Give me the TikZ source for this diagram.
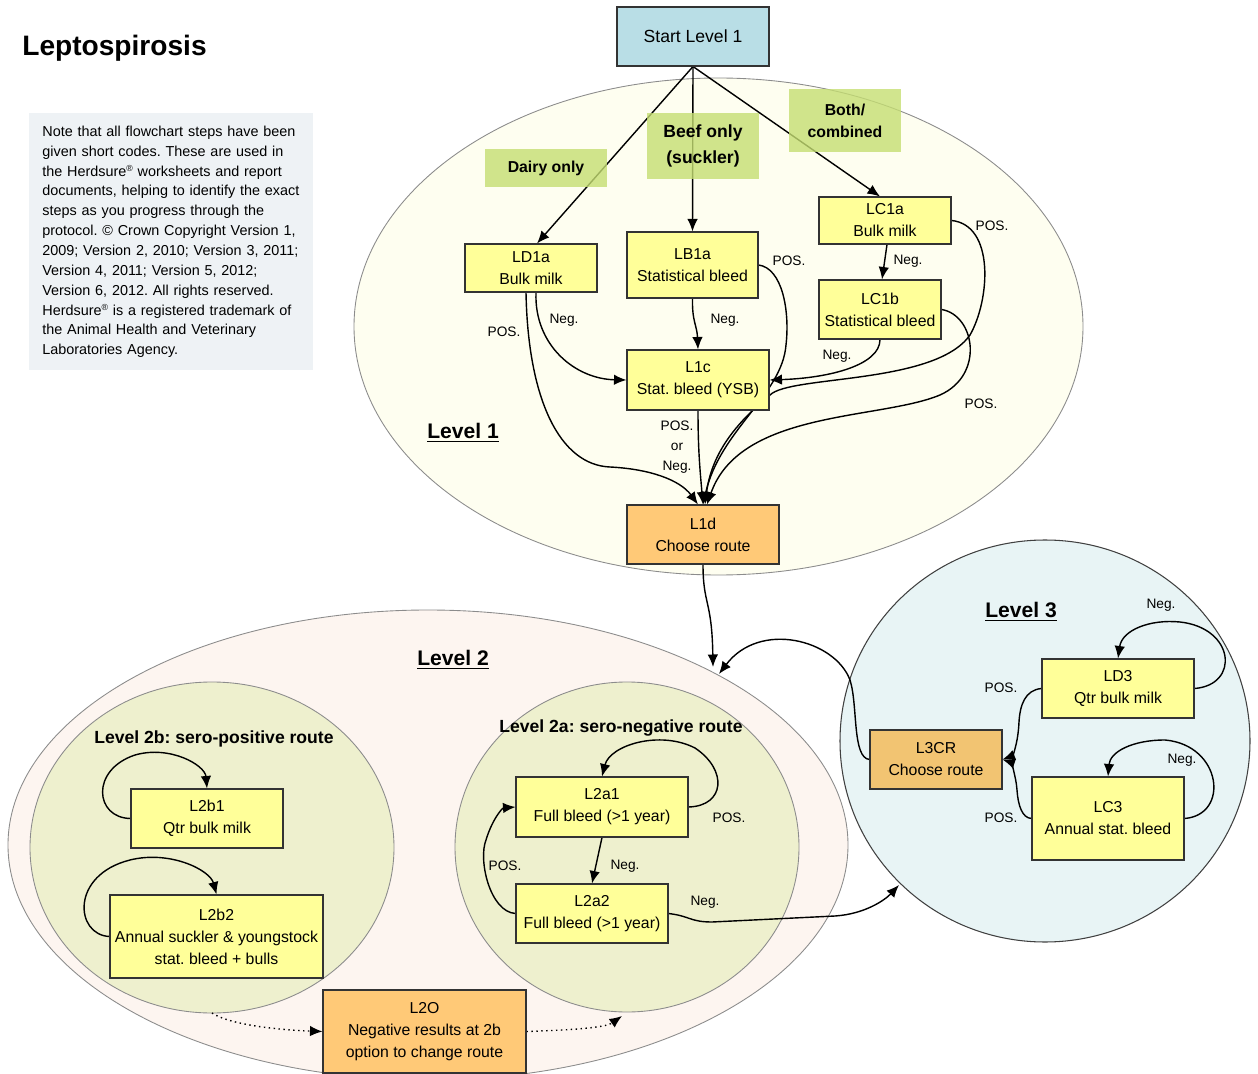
\documentclass[tikz,border=0pt]{standalone}
\usepackage{fontspec}
\setmainfont{Liberation Sans}
\usetikzlibrary{arrows.meta}
\frenchspacing

\definecolor{boxyellow}{HTML}{FFFF99}
\definecolor{routeorange}{HTML}{FFC977}
\definecolor{crorange}{HTML}{F2C472}
\definecolor{startcyan}{HTML}{B9DEE6}
\definecolor{typegreen}{HTML}{C5DE72}
\definecolor{levelonefill}{HTML}{FEFEF0}
\definecolor{leveltwofill}{HTML}{FDF5F0}
\definecolor{routefill}{HTML}{EEF0CE}
\definecolor{levelthreefill}{HTML}{E8F4F5}
\definecolor{notegray}{HTML}{EEF2F5}

\newcommand{\regmark}{\raisebox{0.3em}{\fontsize{5}{5}\selectfont ®}}

\pgfdeclarelayer{back}
\pgfdeclarelayer{lines}
\pgfsetlayers{back,lines,main}

\begin{document}
\begin{tikzpicture}[x=0.02cm,y=0.02cm]
	 \tikzstyle{box}=[draw=black!80,fill=boxyellow,line width=0.6pt,inner sep=0pt,align=center,font=\fontsize{9}{12.5}\selectfont]
	 \tikzstyle{route box}=[box,fill=routeorange]
	 \tikzstyle{type label}=[fill=typegreen,fill opacity=0.8,text opacity=1,inner sep=0pt,align=center,font=\bfseries\fontsize{9}{12.5}\selectfont]
	 \tikzstyle{result}=[inner sep=0pt,align=center,font=\fontsize{7.8}{11.3}\selectfont]
	 \tikzstyle{level}=[draw=black!45,line width=0.5pt]
	 \tikzstyle{level title}=[inner sep=0pt,font=\bfseries\fontsize{12}{14}\selectfont]
	 \tikzstyle{route title}=[inner sep=0pt,font=\bfseries\fontsize{10}{12}\selectfont]

	 \tikzstyle{edge}=[-{Latex[length=2.5mm,width=2.1mm]},line width=0.8pt,black]
	 \tikzstyle{option edge}=[edge,dotted]

	\useasboundingbox (0,0) rectangle (1258,-1074);

	% levels
	\begin{pgfonlayer}{back}
	\draw[level,fill=leveltwofill] (428,-845) ellipse [x radius=420,y radius=235];
	\draw[level,fill=routefill] (212,-847.5) ellipse [x radius=182,y radius=165.5];
	\draw[level,fill=routefill] (627,-847) ellipse [x radius=172,y radius=165];
	\draw[level,fill=levelonefill] (718.5,-326.5) ellipse [x radius=364.5,y radius=248.5];
	\draw[draw=black!75,line width=0.6pt,fill=levelthreefill] (1045,-741) ellipse [x radius=205,y radius=201];
	\end{pgfonlayer}

	\node[anchor=west,inner sep=0pt,font=\bfseries\fontsize{16}{19}\selectfont] (title) at (22,-48) {Leptospirosis};
	\node[anchor=north west,fill=notegray,inner xsep=0.26cm,inner ysep=0.2cm,text width=5.16cm,minimum height=5.14cm,align=left,font=\fontsize{8.2}{11.3}\selectfont] (note) at (29,-113) {Note that all flowchart steps have been\\
given short codes. These are used in\\
the Herdsure\regmark{} worksheets and report\\
documents, helping to identify the exact\\
steps as you progress through the\\
protocol. © Crown Copyright Version 1,\\
2009; Version 2, 2010; Version 3, 2011;\\
Version 4, 2011; Version 5, 2012;\\
Version 6, 2012. All rights reserved.\\
Herdsure\regmark{} is a registered trademark of\\
the Animal Health and Veterinary\\
Laboratories Agency.};

	% level 1
	\node[box,fill=startcyan,minimum width=3.04cm,minimum height=1.18cm,font=\fontsize{10}{12.5}\selectfont] (start) at (693,-36.5) {Start Level 1};
	\node[box,minimum width=2.64cm,minimum height=0.96cm] (LD1a) at (531,-268) {LD1a\\Bulk milk};
	\node[box,minimum width=2.62cm,minimum height=1.32cm] (LB1a) at (692.5,-265) {LB1a\\Statistical bleed};
	\node[box,minimum width=2.64cm,minimum height=0.94cm] (LC1a) at (885,-220.5) {LC1a\\Bulk milk};
	\node[box,minimum width=2.44cm,minimum height=1.18cm] (LC1b) at (880,-309.5) {LC1b\\Statistical bleed};
	\node[box,minimum width=2.84cm,minimum height=1.2cm] (L1c) at (698,-380) {L1c\\Stat. bleed (YSB)};
	\node[route box,minimum width=3.04cm,minimum height=1.18cm] (L1d) at (703,-534.5) {L1d\\Choose route};
	\node[level title] (lev1) at (463,-433) {\underline{Level 1}};

	% level 2
	\node[level title] (lev2) at (453,-660) {\underline{Level 2}};
	\node[route title] (lev2b) at (214,-739) {Level 2b: sero-positive route};
	\node[route title] (lev2a) at (621,-728) {Level 2a: sero-negative route};
	\node[box,minimum width=3.04cm,minimum height=1.18cm] (L2b1) at (207,-818.5) {L2b1\\Qtr bulk milk};
	\node[box,minimum width=4.26cm,minimum height=1.66cm] (L2b2) at (216.5,-936.5) {L2b2\\Annual suckler \& youngstock\\stat. bleed + bulls};
	\node[route box,minimum width=4.06cm,minimum height=1.66cm] (L2O) at (424.5,-1031.5) {L2O\\Negative results at 2b\\option to change route};
	\node[box,minimum width=3.44cm,minimum height=1.2cm] (L2a1) at (602,-807) {L2a1\\Full bleed (>1 year)};
	\node[box,minimum width=3.04cm,minimum height=1.18cm] (L2a2) at (592,-913.5) {L2a2\\Full bleed (>1 year)};

	% level 3
	\node[level title] (lev3) at (1021,-612) {\underline{Level 3}};
	\node[box,minimum width=3.04cm,minimum height=1.18cm] (LD3) at (1118,-688.5) {LD3\\Qtr bulk milk};
	\node[box,fill=crorange,minimum width=2.64cm,minimum height=1.18cm] (L3CR) at (936,-759.5) {L3CR\\Choose route};
	\node[box,minimum width=3.04cm,minimum height=1.66cm] (LC3) at (1108,-818.5) {LC3\\Annual stat. bleed};

	\coordinate (l2in) at (713,-667);
	\coordinate (l2back) at (719,-674);
	\coordinate (l3in) at (899,-885);
	\coordinate (l2bbottom) at (212,-1013);
	\coordinate (l2abottom) at (622,-1016);

	\begin{pgfonlayer}{lines}
	\draw[edge] (start.south) -- ([xshift=0.12cm]LD1a.north);
	\draw[edge] (start.south) -- (LB1a.north);
	\draw[edge] (start.south) -- ([xshift=-0.1cm]LC1a.north);

	\draw[edge] ([xshift=-0.1cm]LD1a.south) .. controls (528,-400) and (560,-465) .. (610,-467) .. controls (650,-469) and (680,-480) .. ([xshift=-0.1cm]L1d.north);
	\draw[edge] ([xshift=0.1cm]LD1a.south) .. controls (534,-345) and (575,-379) .. (L1c.west);
	\draw[edge] (LB1a.south) .. controls (692,-322) and (697,-325) .. (L1c.north);
	\draw[edge] (LB1a.east) .. controls (782,-268) and (790,-310) .. (786,-345) .. controls (782,-395) and (720,-430) .. (L1d.north);
	\draw[edge] (LC1a.north east) ++(0,-24) .. controls (995,-225) and (990,-300) .. (970,-335) .. controls (935,-385) and (790,-375) .. (770,-395) .. controls (740,-420) and (712,-450) .. ([xshift=0.04cm]L1d.north);
	\draw[edge] ([xshift=0.04cm]LC1a.south) -- ([xshift=0.04cm]LC1b.north);
	\draw[edge] (LC1b.south) .. controls (880,-365) and (830,-378) .. (L1c.east);
	\draw[edge] (LC1b.east) .. controls (975,-315) and (985,-375) .. (940,-395) .. controls (880,-420) and (740,-410) .. ([xshift=0.08cm]L1d.north);
	\draw[edge] (L1c.south) .. controls (698,-450) and (700,-470) .. (L1d.north);

	\draw[edge] (L1d.south) .. controls (703,-605) and (712,-600) .. (l2in);
	\draw[edge] (L3CR.west) .. controls (852,-758) and (858,-705) .. (850,-680) .. controls (835,-640) and (760,-620) .. (l2back);
	\draw[edge] (L2a2.east) .. controls (690,-916) and (690,-922) .. (712,-922) -- (835,-916) .. controls (865,-914) and (885,-900) .. (l3in);

	\draw[edge] (LD3.east) .. controls (1240,-685) and (1235,-628) .. (1180,-622) .. controls (1150,-619) and (1122,-630) .. (LD3.north);
	\draw[edge] (LC3.east) .. controls (1230,-815) and (1222,-745) .. (1165,-740) .. controls (1132,-740) and (1110,-752) .. (LC3.north);
	\draw[edge] (LD3.west) .. controls (1025,-690) and (1020,-705) .. (1019,-722) .. controls (1018,-745) and (1012,-756) .. (L3CR.east);
	\draw[edge] (LC3.west) .. controls (1022,-818) and (1018,-805) .. (1017,-790) .. controls (1016,-775) and (1010,-762) .. (L3CR.east);

	\draw[edge] (L2a1.east) .. controls (725,-806) and (728,-770) .. (695,-748) .. controls (660,-730) and (610,-745) .. (L2a1.north);
	\draw[edge] (L2a1.south) -- (L2a2.north);
	\draw[edge] (L2a2.west) .. controls (490,-912) and (478,-860) .. (486,-840) .. controls (492,-820) and (502,-808) .. (L2a1.west);

	\draw[edge] (L2b1.west) .. controls (95,-818) and (90,-770) .. (135,-755) .. controls (170,-745) and (205,-765) .. (L2b1.north);
	\draw[edge] (L2b2.west) .. controls (75,-935) and (70,-875) .. (130,-860) .. controls (170,-850) and (210,-870) .. (L2b2.north);

	\draw[option edge] (l2bbottom) .. controls (230,-1025) and (280,-1030) .. (L2O.west);
	\draw[option edge] (L2O.east) .. controls (570,-1030) and (605,-1028) .. (l2abottom);
	\end{pgfonlayer}

	% route types
	\node[type label,minimum width=2.44cm,minimum height=0.76cm] (dairy) at (546,-168) {Dairy only};
	\node[type label,minimum width=2.24cm,minimum height=1.32cm,font=\bfseries\fontsize{10}{14.5}\selectfont] (beef) at (703,-146) {Beef only\\(suckler)};
	\node[type label,minimum width=2.24cm,minimum height=1.26cm] (both) at (845,-120.5) {Both/\\combined};

	% results
	\node[result] (r1) at (504,-332) {POS.};
	\node[result] (r2) at (564,-320) {Neg.};
	\node[result] (r3) at (725,-320) {Neg.};
	\node[result] (r4) at (789,-261) {POS.};
	\node[result] (r5) at (992,-226) {POS.};
	\node[result] (r6) at (908,-261) {Neg.};
	\node[result] (r7) at (837,-356) {Neg.};
	\node[result] (r8) at (981,-404) {POS.};
	\node[result] (r9) at (677,-447) {POS.\\or\\Neg.};
	\node[result] (r10) at (1161,-605) {Neg.};
	\node[result] (r11) at (1001,-688) {POS.};
	\node[result] (r12) at (1182,-760) {Neg.};
	\node[result] (r13) at (1001,-818) {POS.};
	\node[result] (r14) at (729,-818) {POS.};
	\node[result] (r15) at (625,-866) {Neg.};
	\node[result] (r16) at (505,-866) {POS.};
	\node[result] (r17) at (705,-902) {Neg.};
\end{tikzpicture}
\end{document}
